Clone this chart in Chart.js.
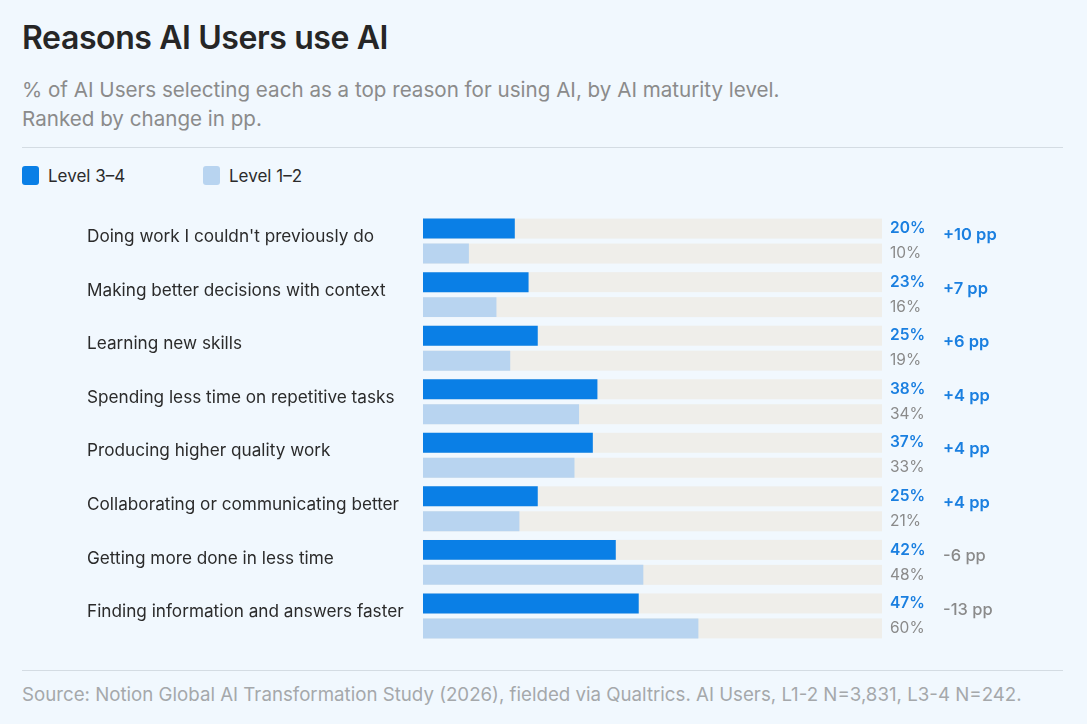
<!DOCTYPE html>
<html>
<head>
<meta charset="utf-8">
<title>Reasons AI Users use AI</title>
<script src="https://cdn.jsdelivr.net/npm/chart.js@4.4.1/dist/chart.umd.min.js"></script>
<style>
  html, body { margin: 0; padding: 0; }
  body {
    width: 1087px; height: 724px; background: #f1f8fe; position: relative; overflow: hidden;
    font-family: Inter, "Noto Sans", sans-serif; color: #2b2b2b;
  }
  h1 { position: absolute; left: 22px; top: 18px; margin: 0; font-size: 32px; font-weight: 600; letter-spacing: -0.4px; color: #262626; }
  .sub { position: absolute; left: 22px; top: 75px; margin: 0; font-size: 20.6px; line-height: 29px; color: #8b8b8b; }
  .rule { position: absolute; left: 22px; width: 1041px; height: 1px; background: #d4dce3; }
  .legend { position: absolute; top: 166px; left: 22px; font-size: 17px; color: #2b2b2b; }
  .legend span.item { position: absolute; white-space: nowrap; line-height: 20px; }
  .legend i { display: inline-block; width: 17px; height: 19px; border-radius: 3px; vertical-align: top; margin-right: 9px; }
  .foot { position: absolute; left: 22px; top: 683px; font-size: 18.7px; color: #a5a8ab; white-space: nowrap; }
  #wrap { position: absolute; left: 0; top: 201px; width: 1087px; height: 455px; }
</style>
</head>
<body>
<h1>Reasons AI Users use AI</h1>
<p class="sub">% of AI Users selecting each as a top reason for using AI, by AI maturity level.<br>Ranked by change in pp.</p>
<div class="rule" style="top:147px"></div>
<div class="legend" id="legend"></div>
<div id="wrap"><canvas id="chart"></canvas></div>
<div class="rule" style="top:670px"></div>
<div class="foot">Source: Notion Global AI Transformation Study (2026), fielded via Qualtrics. AI Users, L1-2 N=3,831, L3-4 N=242.</div>

<script>
const reasons = [
  "Doing work I couldn't previously do",
  "Making better decisions with context",
  "Learning new skills",
  "Spending less time on repetitive tasks",
  "Producing higher quality work",
  "Collaborating or communicating better",
  "Getting more done in less time",
  "Finding information and answers faster"
];
const level34 = [20, 23, 25, 38, 37, 25, 42, 47];
const level12 = [10, 16, 19, 34, 33, 21, 48, 60];
const seriesNames = ["Level 3–4", "Level 1–2"];
const seriesColors = ["#0a7fe6", "#b8d4f0"];

const trackColor = "#efeeea";
const blue = "#1a7fe0";
const grey = "#8a8a8a";

// legend
const legend = document.getElementById("legend");
seriesNames.forEach((name, i) => {
  const s = document.createElement("span");
  s.className = "item";
  s.style.left = (i * 181) + "px";
  s.innerHTML = `<i style="background:${seriesColors[i]}"></i>${name}`;
  legend.appendChild(s);
});

// grey tracks behind each bar
const trackPlugin = {
  id: "tracks",
  beforeDatasetsDraw(chart) {
    const ctx = chart.ctx;
    const x = chart.scales.x;
    const x0 = x.getPixelForValue(0), x1 = x.getPixelForValue(100);
    ctx.save();
    ctx.fillStyle = trackColor;
    chart.data.datasets.forEach((ds, di) => {
      chart.getDatasetMeta(di).data.forEach(bar => {
        ctx.fillRect(x0, bar.y - bar.height / 2, x1 - x0, bar.height);
      });
    });
    ctx.restore();
  }
};

// value + change labels to the right of the tracks
const labelPlugin = {
  id: "valueLabels",
  afterDatasetsDraw(chart) {
    const ctx = chart.ctx;
    const right = chart.scales.x.getPixelForValue(100);
    const y = chart.scales.y;
    ctx.save();
    ctx.textBaseline = "middle";
    ctx.textAlign = "left";
    const m0 = chart.getDatasetMeta(0).data;
    const m1 = chart.getDatasetMeta(1).data;
    reasons.forEach((r, i) => {
      ctx.font = "600 15.5px Inter";
      ctx.fillStyle = blue;
      ctx.fillText(level34[i] + "%", right + 8, m0[i].y);
      ctx.font = "400 15.5px Inter";
      ctx.fillStyle = grey;
      ctx.fillText(level12[i] + "%", right + 8, m1[i].y);
      const d = level34[i] - level12[i];
      if (d > 0) {
        ctx.font = "600 16.5px Inter";
        ctx.fillStyle = blue;
      } else {
        ctx.font = "500 16.5px Inter";
        ctx.fillStyle = grey;
      }
      ctx.fillText((d > 0 ? "+" : "") + d + " pp", right + 61, y.getPixelForValue(i) - 6);
    });
    ctx.restore();
  }
};

new Chart(document.getElementById("chart"), {
  type: "bar",
  data: {
    labels: reasons,
    datasets: [
      { label: seriesNames[0], data: level34, backgroundColor: seriesColors[0] },
      { label: seriesNames[1], data: level12, backgroundColor: seriesColors[1] }
    ]
  },
  options: {
    indexAxis: "y",
    responsive: true,
    maintainAspectRatio: false,
    animation: false,
    categoryPercentage: 0.933,
    barPercentage: 0.8,
    layout: { padding: { left: 87, right: 205, top: 0, bottom: 0 } },
    plugins: { legend: { display: false }, tooltip: { enabled: false } },
    scales: {
      x: { min: 0, max: 100, display: false },
      y: {
        grid: { display: false },
        border: { display: false },
        afterFit(scale) { scale.width = 336; },
        ticks: {
          crossAlign: "far",
          labelOffset: -4,
          color: "#2b2b2b",
          font: { family: "Inter", size: 17.2 }
        }
      }
    }
  },
  plugins: [trackPlugin, labelPlugin]
});
</script>
</body>
</html>
